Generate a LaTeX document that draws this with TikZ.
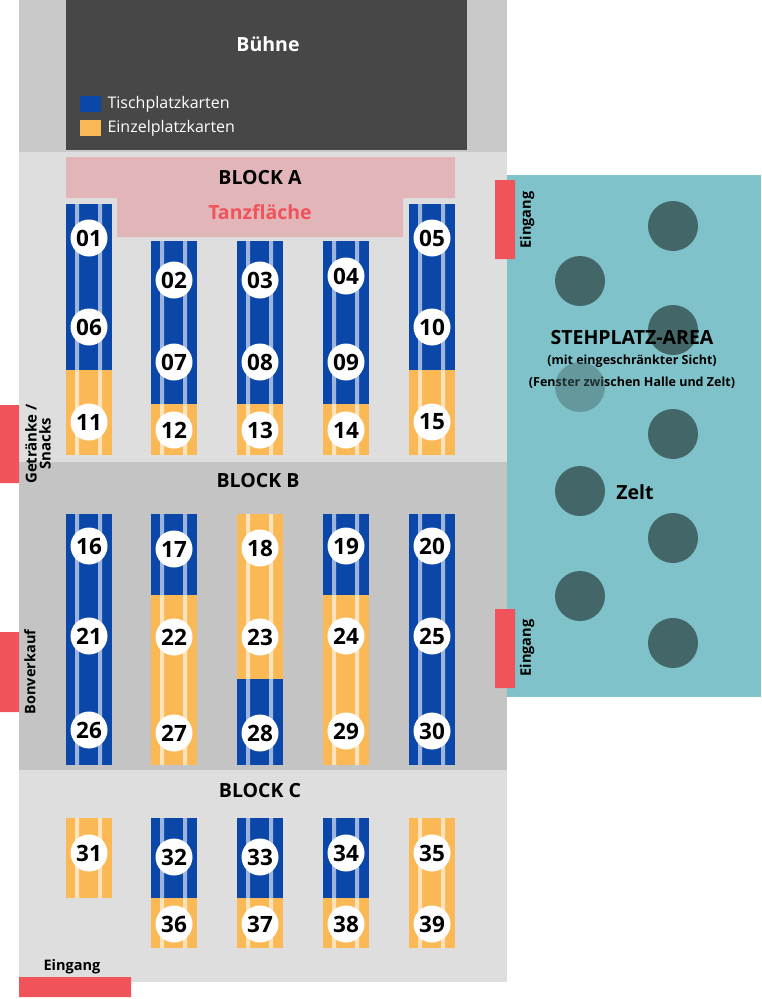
\documentclass[tikz,border=0pt]{standalone}
\usepackage{fontspec}
\setmainfont{Open Sans}
\begin{document}
\begin{tikzpicture}[x=1pt,y=-1pt,
  num/.style={circle,fill=white,inner sep=0pt,minimum size=37pt,font=\fontsize{22.5}{22}\selectfont\bfseries},
  blk/.style={font=\fontsize{19.5}{20}\selectfont\bfseries},
  ent/.style={fill=entred,draw=none},
  side/.style={rotate=90,font=\fontsize{14.5}{15}\selectfont\bfseries,align=center},
  tent/.style={circle,fill=tentc,minimum size=50pt,inner sep=0pt}]
\definecolor{tblue}{HTML}{0B47A8}
\definecolor{torange}{HTML}{FBB956}
\definecolor{entred}{HTML}{F0545A}
\definecolor{tentc}{HTML}{436769}
\definecolor{zeltc}{HTML}{80C2C9}
\definecolor{tanzc}{HTML}{E2B6B8}
\useasboundingbox (0,0) rectangle (761,999);
\fill[white] (0,0) rectangle (761,999);
% halls
\fill[black!21] (19,0) rectangle (507,152);
\fill[black!72] (66,0) rectangle (467,150);
\fill[black!13] (19,152) rectangle (507,462);
\fill[black!23] (19,462) rectangle (507,770);
\fill[black!13] (19,770) rectangle (507,982);
\fill[zeltc] (507,175) rectangle (761,697);
% dance floor
\fill[tanzc] (66,157) rectangle (455,198) (117,198) rectangle (403,237);
% legend
\fill[tblue] (80,96) rectangle (101,112);
\fill[torange] (80,120) rectangle (101,136);
\node[anchor=west,text=white,font=\fontsize{16}{16}\selectfont] (lg1) at (104,104) {Tischplatzkarten};
\node[anchor=west,text=white,font=\fontsize{16}{16}\selectfont] (lg2) at (104,128) {Einzelplatzkarten};
\node[text=white,blk] (buehne) at (268,44) {Bühne};
% tables: segment x, y1, y2, colour
\newcommand\tseg[4]{%
  \fill[#4] (#1-23,#2) rectangle (#1+23,#3);
  \fill[#4!40!white] (#1-14,#2) rectangle (#1-10,#3) (#1+9,#2) rectangle (#1+13,#3);}
\foreach \x in {89,432}{\tseg{\x}{204}{370}{tblue}\tseg{\x}{370}{455}{torange}}
\foreach \x in {174,260,346}{\tseg{\x}{241}{404}{tblue}\tseg{\x}{404}{455}{torange}}
\foreach \x in {89,432}{\tseg{\x}{514}{765}{tblue}}
\foreach \x in {174,346}{\tseg{\x}{514}{595}{tblue}\tseg{\x}{595}{765}{torange}}
\tseg{260}{514}{679}{torange}\tseg{260}{679}{765}{tblue}
\tseg{89}{818}{898}{torange}
\foreach \x in {174,260,346}{\tseg{\x}{818}{898}{tblue}\tseg{\x}{898}{948}{torange}}
\tseg{432}{818}{948}{torange}
% numbers
\foreach \n/\x/\y in {01/89/238,06/89/327,11/89/422,02/174/280,07/174/362,12/174/430,
 03/260/280,08/260/362,13/260/430,04/346/276,09/346/362,14/346/430,05/432/238,10/432/327,15/432/422,
 16/89/546,21/89/636,26/89/730,17/174/549,22/174/637,27/174/733,18/260/548,23/260/637,28/260/733,
 19/346/546,24/346/636,29/346/731,20/432/546,25/432/636,30/432/731,
 31/89/853,32/174/857,36/174/924,33/260/857,37/260/924,34/346/853,38/346/924,35/432/853,39/432/924}
 \node[num] (t\n) at (\x,\y) {\n};
\node[blk] (ba) at (260,178) {BLOCK A};
\node[blk,text=entred] (tanz) at (260,212) {Tanzfläche};
\node[blk] (bb) at (258,481) {BLOCK B};
\node[blk] (bc) at (260,791) {BLOCK C};
% tent
\foreach \x/\y [count=\i] in {673/226,580/281,673/330,673/434,580/491,673/538,580/596,673/643}
  \node[tent] (c\i) at (\x,\y) {};
\node[blk] (steh) at (632,338) {STEHPLATZ-AREA};
\node[font=\fontsize{12.5}{13}\selectfont\bfseries] (s1) at (632,361) {(mit eingeschränkter Sicht)};
\node[font=\fontsize{12.5}{13}\selectfont\bfseries] (s2) at (632,383) {(Fenster zwischen Halle und Zelt)};
\node[tent,fill opacity=0.45] (c9) at (580,387) {};
\node[blk] (zelt) at (635,492) {Zelt};
% entrances
\fill[ent] (495,180) rectangle (515,259) (495,609) rectangle (515,688)
  (0,405) rectangle (19,483) (0,632) rectangle (19,712) (19,977) rectangle (131,997);
\node[side] (e1) at (527,220) {Eingang};
\node[side] (e2) at (527,648) {Eingang};
\node[side,font=\fontsize{15}{14}\selectfont\bfseries] (gs) at (38,444) {Getränke /\\Snacks};
\node[side] (bv) at (30,672) {Bonverkauf};
\node[font=\fontsize{14.5}{15}\selectfont\bfseries] (e3) at (72,967) {Eingang};
\end{tikzpicture}
\end{document}
